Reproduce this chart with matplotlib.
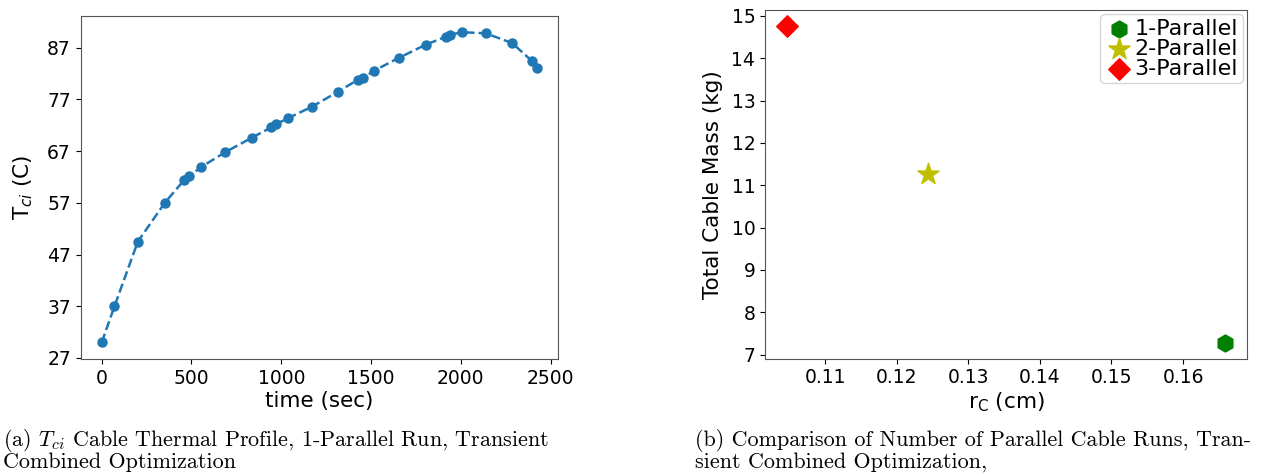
import numpy as np
import matplotlib.pyplot as plt

# left panel: cable thermal profile
time_sec = [0, 71, 201, 351, 459, 487, 552, 688, 836, 944, 970, 1039, 1171, 1316,
            1426, 1456, 1519, 1658, 1805, 1915, 1937, 2007, 2138, 2286, 2394, 2422]
T_ci = [30.0, 37.0, 49.5, 57.0, 61.4, 62.1, 63.9, 66.8, 69.6, 71.6, 72.2, 73.4, 75.6, 78.5,
        80.8, 81.2, 82.6, 85.1, 87.6, 89.1, 89.5, 90.0, 89.8, 87.9, 84.5, 83.0]
yticks_left = [27, 37, 47, 57, 67, 77, 87]

# right panel: parallel cable runs
run_labels = ['1-Parallel', '2-Parallel', '3-Parallel']
r_c = [0.16587, 0.12436, 0.10465]
cable_mass = [7.28, 11.26, 14.77]
run_markers = ['h', '*', 'D']
run_colors = ['g', 'y', 'r']
run_sizes = [150, 260, 120]

fig = plt.figure(figsize=(12.62, 4.74), dpi=100)
W, H = 1262, 474

ax1 = fig.add_axes([80.7 / W, 1 - 359 / H, (558 - 80.7) / W, (359 - 15.7) / H])
ax1.plot(time_sec, T_ci, '--o', color='#1f77b4', markersize=6.5, linewidth=1.8)
ax1.set_xlim(-117, 2541)
ax1.set_ylim(26.8, 93.2)
ax1.set_yticks(yticks_left)
ax1.set_xticks([0, 500, 1000, 1500, 2000, 2500])
ax1.set_xlabel('time (sec)', fontsize=15.5, labelpad=2)
ax1.set_ylabel(r'T$_{ci}$ (C)', fontsize=15.5, labelpad=9)
ax1.tick_params(labelsize=13.5)

ax2 = fig.add_axes([765 / W, 1 - 358.7 / H, (1247 - 765) / W, (358.7 - 10) / H])
for x, y, lab, m, c, s in zip(r_c, cable_mass, run_labels, run_markers, run_colors, run_sizes):
    ax2.scatter(x, y, marker=m, color=c, s=s, label=lab, zorder=3)
ax2.set_xlim(0.1016, 0.16894)
ax2.set_ylim(6.905, 15.14)
ax2.set_xticks([0.11, 0.12, 0.13, 0.14, 0.15, 0.16])
ax2.set_yticks(range(7, 16))
ax2.set_xlabel(r'r$_\mathdefault{C}$ (cm)', fontsize=15.5, labelpad=2)
ax2.set_ylabel('Total Cable Mass (kg)', fontsize=15.5, labelpad=6)
ax2.tick_params(labelsize=13.5)
ax2.legend(loc='upper right', fontsize=16, handletextpad=0.05, labelspacing=0.0,
           borderpad=0.2, handlelength=1.3, borderaxespad=0.2, scatterpoints=1)

for ax in (ax1, ax2):
    for sp in ax.spines.values():
        sp.set_color('#555555')

cap = dict(fontsize=15.9, family='cmr10', math_fontfamily='cm', va='baseline', ha='left')
fig.text(3 / W, 1 - 446 / H, r'(a) $T_{ci}$ Cable Thermal Profile, 1-Parallel Run, Transient', **cap)
fig.text(3 / W, 1 - 468 / H, 'Combined Optimization', **cap)
fig.text(695 / W, 1 - 446 / H, '(b) Comparison of Number of Parallel Cable Runs, Tran-', **cap)
fig.text(695 / W, 1 - 468 / H, 'sient Combined Optimization,', **cap)

fig.savefig('out.png', dpi=100)
